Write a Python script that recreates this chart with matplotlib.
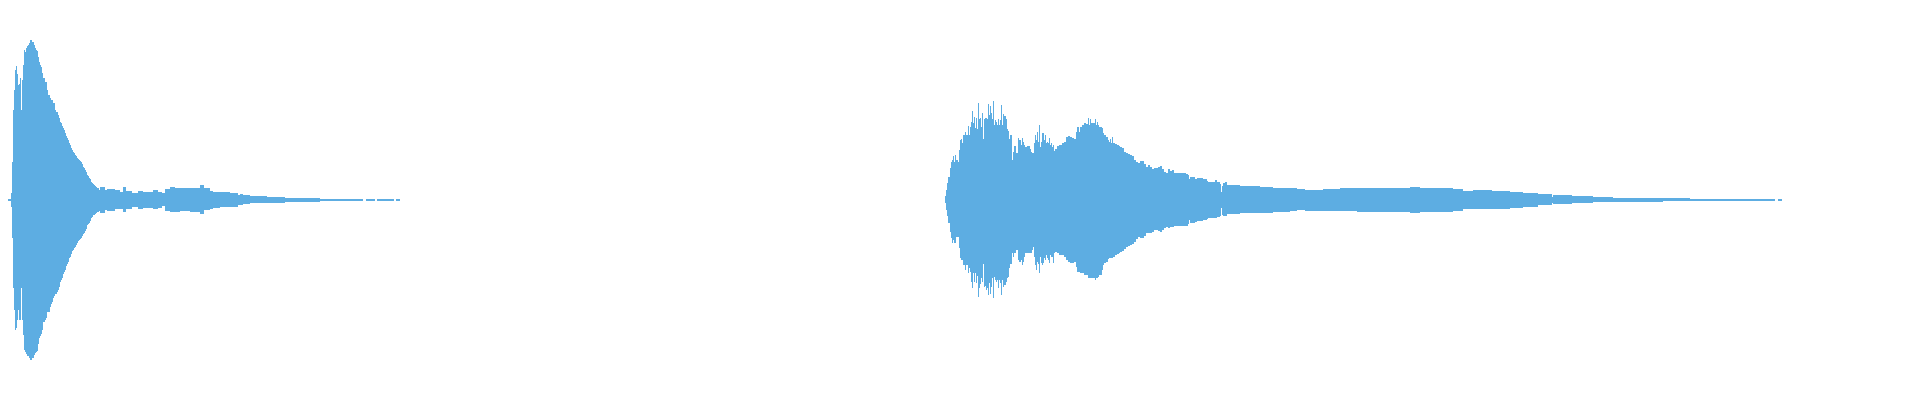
import matplotlib
matplotlib.use("Agg")
import matplotlib.pyplot as plt
import numpy as np

# ---- Waveform envelope data (x = column / time frame, amplitude in full-scale units) ----
# Clip 1: start frame of each step, upper peak, lower peak
clip1_frames = [8, 11, 12, 13, 14, 15, 16, 17, 18, 19, 20, 21, 22, 23, 24, 25, 26, 27, 28, 29,
                30, 31, 32, 33, 34, 35, 36, 37, 38, 39, 40, 41, 42, 43, 44, 45, 46, 47, 48, 49,
                50, 51, 52, 53, 54, 55, 56, 57, 58, 59, 60, 61, 62, 63, 64, 65, 66, 67, 68, 69,
                70, 71, 72, 73, 74, 75, 76, 77, 78, 79, 80, 81, 82, 83, 84, 85, 86, 87, 88, 89,
                90, 91, 92, 93, 94, 95, 96, 97, 98, 99, 100, 105, 107, 115, 120, 123, 126, 132,
                138, 143, 153, 158, 162, 165, 170, 175, 180, 190, 200, 204, 210, 213, 220, 230,
                238, 240, 243, 250, 267, 285, 292, 320, 333, 363, 366, 375, 377, 394, 396, 400]
clip1_upper = [0.005, 0.035, 0.19, 0.45, 0.55, 0.65, 0.67, 0.63, 0.575, 0.58, 0.61, 0.45, 0.60,
               0.675, 0.75, 0.74, 0.76, 0.77, 0.775, 0.785, 0.80, 0.80, 0.79, 0.79, 0.775, 0.76,
               0.75, 0.745, 0.715, 0.69, 0.675, 0.665, 0.635, 0.61, 0.61, 0.59, 0.59, 0.55, 0.525,
               0.525, 0.51, 0.50, 0.50, 0.485, 0.485, 0.45, 0.44, 0.44, 0.425, 0.41, 0.39, 0.385,
               0.37, 0.36, 0.35, 0.335, 0.32, 0.31, 0.30, 0.285, 0.275, 0.26, 0.25, 0.24, 0.235,
               0.225, 0.22, 0.21, 0.205, 0.20, 0.195, 0.19, 0.18, 0.165, 0.16, 0.15, 0.14, 0.125,
               0.12, 0.11, 0.105, 0.09, 0.085, 0.08, 0.075, 0.07, 0.065, 0.06, 0.06, 0.05, 0.065,
               0.05, 0.055, 0.05, 0.04, 0.065, 0.045, 0.035, 0.045, 0.04, 0.05, 0.04, 0.035, 0.055,
               0.065, 0.06, 0.06, 0.062, 0.075, 0.06, 0.045, 0.04, 0.04, 0.035, 0.025, 0.03, 0.025,
               0.02, 0.017, 0.012, 0.01, 0.007, 0.004, 0.0, 0.004, 0.0, 0.004, 0.0, 0.004]
clip1_lower = [0.005, 0.035, 0.19, 0.44, 0.55, 0.65, 0.64, 0.60, 0.55, 0.60, 0.60, 0.44, 0.60,
               0.675, 0.75, 0.76, 0.77, 0.78, 0.78, 0.79, 0.80, 0.80, 0.79, 0.79, 0.775, 0.765,
               0.76, 0.755, 0.72, 0.69, 0.68, 0.67, 0.65, 0.61, 0.61, 0.60, 0.59, 0.56, 0.56,
               0.56, 0.535, 0.52, 0.51, 0.49, 0.48, 0.47, 0.47, 0.46, 0.45, 0.435, 0.41, 0.40,
               0.39, 0.37, 0.36, 0.35, 0.33, 0.32, 0.31, 0.29, 0.285, 0.27, 0.255, 0.25, 0.24,
               0.235, 0.225, 0.215, 0.205, 0.20, 0.195, 0.19, 0.18, 0.17, 0.165, 0.155, 0.145,
               0.125, 0.12, 0.115, 0.105, 0.09, 0.085, 0.075, 0.075, 0.07, 0.065, 0.06, 0.06,
               0.055, 0.065, 0.05, 0.055, 0.045, 0.045, 0.06, 0.045, 0.035, 0.045, 0.04, 0.045,
               0.04, 0.03, 0.055, 0.06, 0.06, 0.055, 0.06, 0.072, 0.05, 0.045, 0.04, 0.037, 0.033,
               0.025, 0.025, 0.02, 0.015, 0.013, 0.01, 0.008, 0.007, 0.004, 0.0, 0.004, 0.0,
               0.004, 0.0, 0.004]

# Clip 2
clip2_frames = [945, 946, 947, 948, 950, 951, 952, 953, 954, 955, 956, 958, 959, 960, 961, 962,
                963, 965, 966, 968, 969, 970, 971, 972, 973, 974, 975, 976, 977, 978, 979, 980,
                981, 982, 983, 984, 985, 986, 987, 988, 989, 990, 991, 992, 993, 994, 995, 996,
                997, 998, 999, 1000, 1001, 1002, 1003, 1004, 1006, 1007, 1008, 1009, 1010, 1012,
                1013, 1014, 1016, 1018, 1019, 1021, 1022, 1023, 1024, 1025, 1027, 1030, 1031,
                1032, 1033, 1034, 1035, 1036, 1037, 1038, 1039, 1040, 1041, 1042, 1043, 1044,
                1045, 1046, 1047, 1048, 1049, 1050, 1051, 1052, 1053, 1054, 1055, 1057, 1059,
                1062, 1064, 1066, 1068, 1070, 1072, 1074, 1076, 1077, 1079, 1080, 1082, 1084,
                1086, 1088, 1089, 1090, 1091, 1092, 1094, 1095, 1096, 1097, 1098, 1099, 1102,
                1103, 1104, 1106, 1108, 1109, 1110, 1111, 1112, 1113, 1115, 1117, 1119, 1120,
                1122, 1124, 1126, 1128, 1130, 1132, 1134, 1136, 1138, 1140, 1142, 1144, 1146,
                1148, 1150, 1152, 1154, 1158, 1160, 1162, 1164, 1166, 1168, 1170, 1172, 1174,
                1176, 1186, 1188, 1189, 1190, 1195, 1197, 1203, 1207, 1208, 1215, 1217, 1220,
                1221, 1222, 1223, 1225, 1227, 1240, 1260, 1273, 1290, 1297, 1305, 1323, 1340,
                1357, 1393, 1410, 1420, 1453, 1463, 1473, 1492, 1510, 1523, 1538, 1552, 1553,
                1572, 1585, 1593, 1613, 1623, 1637, 1663, 1690, 1710, 1733, 1775, 1778, 1782]
clip2_upper = [0.02, 0.05, 0.087, 0.117, 0.158, 0.19, 0.20, 0.22, 0.19, 0.225, 0.20, 0.19, 0.25,
               0.30, 0.303, 0.283, 0.325, 0.342, 0.325, 0.37, 0.325, 0.367, 0.39, 0.447, 0.383,
               0.417, 0.358, 0.408, 0.353, 0.487, 0.403, 0.408, 0.367, 0.433, 0.303, 0.403, 0.408,
               0.408, 0.403, 0.48, 0.425, 0.47, 0.433, 0.403, 0.495, 0.375, 0.40, 0.392, 0.375,
               0.403, 0.375, 0.40, 0.475, 0.375, 0.43, 0.42, 0.403, 0.353, 0.347, 0.303, 0.325,
               0.20, 0.242, 0.27, 0.237, 0.308, 0.30, 0.275, 0.308, 0.292, 0.275, 0.263, 0.268,
               0.253, 0.242, 0.233, 0.233, 0.283, 0.325, 0.30, 0.342, 0.292, 0.375, 0.267, 0.292,
               0.333, 0.337, 0.30, 0.325, 0.283, 0.292, 0.283, 0.312, 0.275, 0.283, 0.263, 0.275,
               0.247, 0.257, 0.268, 0.275, 0.283, 0.292, 0.317, 0.32, 0.313, 0.308, 0.303, 0.342,
               0.363, 0.342, 0.367, 0.375, 0.387, 0.38, 0.408, 0.375, 0.403, 0.383, 0.387, 0.383,
               0.405, 0.375, 0.388, 0.375, 0.367, 0.358, 0.333, 0.325, 0.317, 0.30, 0.292, 0.303,
               0.287, 0.317, 0.283, 0.28, 0.275, 0.27, 0.267, 0.258, 0.242, 0.237, 0.23, 0.225,
               0.22, 0.20, 0.192, 0.183, 0.195, 0.197, 0.18, 0.167, 0.175, 0.167, 0.153, 0.158,
               0.163, 0.17, 0.153, 0.142, 0.137, 0.153, 0.147, 0.15, 0.137, 0.133, 0.13, 0.125,
               0.103, 0.117, 0.103, 0.108, 0.103, 0.097, 0.092, 0.10, 0.092, 0.078, 0.042, 0.07,
               0.083, 0.088, 0.077, 0.07, 0.067, 0.062, 0.058, 0.053, 0.05, 0.053, 0.058, 0.062,
               0.058, 0.063, 0.058, 0.053, 0.047, 0.05, 0.047, 0.042, 0.033, 0.03, 0.017, 0.025,
               0.02, 0.02, 0.013, 0.008, 0.012, 0.008, 0.008, 0.005, 0.005, 0.004, 0.0, 0.004]
clip2_lower = [0.017, 0.05, 0.08, 0.117, 0.158, 0.19, 0.217, 0.20, 0.217, 0.217, 0.183, 0.183,
               0.242, 0.29, 0.30, 0.30, 0.325, 0.35, 0.325, 0.367, 0.34, 0.36, 0.408, 0.442, 0.367,
               0.408, 0.367, 0.417, 0.38, 0.483, 0.442, 0.42, 0.39, 0.408, 0.32, 0.433, 0.43, 0.45,
               0.44, 0.475, 0.417, 0.47, 0.433, 0.392, 0.492, 0.383, 0.40, 0.408, 0.40, 0.442,
               0.40, 0.417, 0.475, 0.40, 0.433, 0.425, 0.408, 0.39, 0.383, 0.342, 0.32, 0.267,
               0.283, 0.267, 0.25, 0.30, 0.308, 0.30, 0.325, 0.31, 0.283, 0.267, 0.263, 0.265,
               0.267, 0.25, 0.233, 0.283, 0.325, 0.35, 0.308, 0.32, 0.367, 0.283, 0.317, 0.325,
               0.317, 0.292, 0.30, 0.275, 0.292, 0.30, 0.317, 0.275, 0.283, 0.287, 0.317, 0.263,
               0.258, 0.267, 0.275, 0.275, 0.283, 0.30, 0.308, 0.313, 0.313, 0.308, 0.333, 0.358,
               0.36, 0.367, 0.367, 0.375, 0.375, 0.392, 0.39, 0.39, 0.39, 0.392, 0.392, 0.40,
               0.392, 0.392, 0.385, 0.375, 0.35, 0.325, 0.317, 0.308, 0.297, 0.292, 0.292, 0.29,
               0.29, 0.283, 0.275, 0.27, 0.267, 0.258, 0.255, 0.247, 0.233, 0.23, 0.225, 0.22,
               0.208, 0.197, 0.183, 0.192, 0.192, 0.18, 0.167, 0.167, 0.167, 0.158, 0.15, 0.153,
               0.158, 0.15, 0.142, 0.137, 0.142, 0.137, 0.137, 0.13, 0.13, 0.13, 0.12, 0.10,
               0.117, 0.108, 0.105, 0.10, 0.097, 0.092, 0.092, 0.087, 0.08, 0.042, 0.075, 0.08,
               0.08, 0.07, 0.067, 0.063, 0.058, 0.057, 0.05, 0.053, 0.053, 0.057, 0.058, 0.058,
               0.063, 0.058, 0.053, 0.047, 0.047, 0.045, 0.038, 0.033, 0.025, 0.015, 0.02, 0.017,
               0.013, 0.012, 0.01, 0.01, 0.008, 0.005, 0.005, 0.004, 0.004, 0.0, 0.004]

WAVE_COLOR = "#5DADE2"

fig = plt.figure(figsize=(19.2, 4.0), dpi=100)
ax = fig.add_axes([0, 0, 1, 1])
ax.set_xlim(0, 1920)
ax.set_ylim(-1, 1)
ax.axis("off")

for frames, upper, lower in [(clip1_frames, clip1_upper, clip1_lower),
                             (clip2_frames, clip2_upper, clip2_lower)]:
    x = np.asarray(frames, dtype=float)
    up = np.append(upper, upper[-1])
    lo = np.append(lower, lower[-1])
    ax.fill_between(x, -lo, up, step="post", color=WAVE_COLOR, linewidth=0,
                    antialiased=True)

fig.savefig("out.png", dpi=100, facecolor="white")
